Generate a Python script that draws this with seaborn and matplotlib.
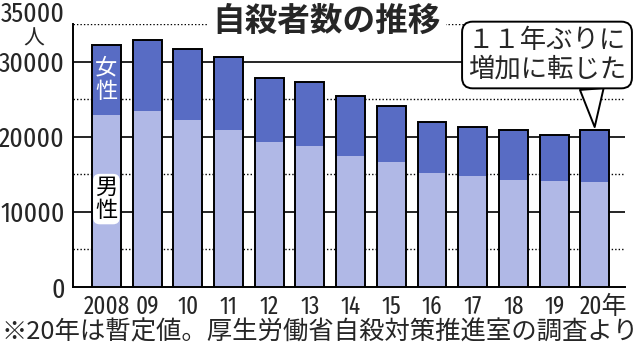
import numpy as np
import matplotlib
matplotlib.use("Agg")
import matplotlib.pyplot as plt
import matplotlib.transforms as mtransforms
import pandas as pd
import seaborn as sns

####data####
years = ["2008", "09", "10", "11", "12", "13", "14", "15", "16", "17", "18", "19", "20"]
male = [22831, 23472, 22283, 20955, 19273, 18787, 17386, 16681, 15121, 14826, 14290, 14078, 13943]
female = [9418, 9373, 9407, 9696, 8585, 8496, 8041, 7344, 6776, 6495, 6550, 6091, 6976]

####figure settings####
sns.set_style("white")
plt.rcParams["font.family"] = ["Fira Sans Extra Condensed", "Roboto Condensed", "Noto Sans CJK JP", "DejaVu Sans"]
jp = ["Noto Sans CJK JP", "DejaVu Sans"]

col_f = "#586cc4"
col_m = "#b0b8e6"

df = pd.DataFrame({"year": years, "male": male, "female": female})
df["total"] = df["male"] + df["female"]

fig = plt.figure(figsize=(6.4, 3.51), dpi=100)
ax = fig.add_axes([73/640, 64/351, (625-73)/640, (287-24)/351])

# grid lines
for v in [10000, 20000, 30000]:
    ax.axhline(v, color="black", lw=1.2, zorder=0)
for v in [5000, 15000, 25000, 35000]:
    ax.axhline(v, color="black", lw=1.0, ls=(0, (1, 1.5)), zorder=0)

w = 0.71
sns.barplot(data=df, x="year", y="total", color=col_f, saturation=1, width=w,
            linewidth=0, ax=ax, zorder=2)
sns.barplot(data=df, x="year", y="male", color=col_m, saturation=1, width=w,
            linewidth=0, ax=ax, zorder=3)
sns.barplot(data=df, x="year", y="total", color="black", fill=False, saturation=1,
            width=w, linewidth=1.4, ax=ax, zorder=4)

ax.set_xlim(-0.82, 12.74)
ax.set_ylim(0, 35000)
for s in ["top", "right"]:
    ax.spines[s].set_visible(False)
for s in ["left", "bottom"]:
    ax.spines[s].set_linewidth(1.4)
    ax.spines[s].set_color("black")
ax.set_xlabel("")
ax.set_ylabel("")

ax.set_yticks([0, 10000, 20000, 30000])
ax.set_yticklabels(["0", "10000", "20000", "30000"], fontsize=20)
ax.tick_params(axis="y", length=0, pad=6)
ax.tick_params(axis="x", length=0, pad=5, labelsize=18)
labels = list(years)
labels[-1] = "20年"
ax.set_xticks(range(len(years)))
ax.set_xticklabels(labels)
last = ax.get_xticklabels()[-1]
last.set_transform(last.get_transform() + mtransforms.ScaledTranslation(9/100, 0, fig.dpi_scale_trans))

# 35000 label and unit
fig.text(65/640, 1 - 14/351, "35000", ha="right", va="center", fontsize=20)
fig.text(34/640, 1 - 39/351, "人", ha="center", va="center", fontsize=15, family=jp)

# title
fig.text(327/640, 1 - 21/351, "自殺者数の推移", ha="center", va="center", fontsize=23.5,
         fontweight="bold", family=jp,
         bbox=dict(boxstyle="square,pad=0.15", fc="white", ec="none"))

# series labels
ax.text(0, 27600, "女\n性", color="white", ha="center", va="center", fontsize=16,
        linespacing=1.0, family=jp, zorder=6)
ax.text(0, 11700, "男\n性", color="black", ha="center", va="center", fontsize=16,
        linespacing=1.0, family=jp, zorder=6,
        bbox=dict(boxstyle="round,pad=0.1,rounding_size=0.3", fc="white", ec="none"))

# callout
ax.annotate("１１年ぶりに\n増加に転じた", xy=(12, df["total"].iloc[-1]),
            xycoords="data", xytext=(547/640, 1 - 55/351), textcoords="figure fraction",
            ha="center", va="center", fontsize=19, linespacing=1.05, family=jp,
            bbox=dict(boxstyle="round,pad=0.22,rounding_size=0.4", fc="white", ec="black", lw=1.4),
            arrowprops=dict(arrowstyle="wedge,tail_width=0.9", fc="white", ec="black", lw=1.4,
                            relpos=(0.78, 0), shrinkA=0, shrinkB=2),
            zorder=7, annotation_clip=False)

# footnote
fig.text(2/640, 1 - 333/351, "※20年は暫定値。厚生労働省自殺対策推進室の調査より", ha="left",
         va="center", fontsize=18.3, family=jp)

plt.savefig("out.png", dpi=100)
